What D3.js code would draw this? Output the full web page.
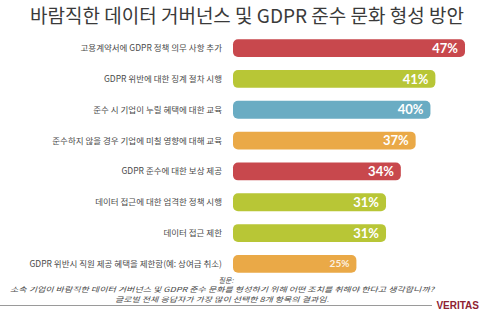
<!DOCTYPE html>
<html><head><meta charset="utf-8">
<script src="https://cdn.jsdelivr.net/npm/d3@7"></script>
<style>body{margin:0;background:#fff;}svg{display:block;}</style>
</head><body>
<svg id="c" width="495" height="323"></svg>
<script>
const title = "바람직한 데이터 거버넌스 및 GDPR 준수 문화 형성 방안";
const categories = [
  "고용계약서에 GDPR 정책 의무 사항 추가",
  "GDPR 위반에 대한 징계 절차 시행",
  "준수 시 기업이 누릴 혜택에 대한 교육",
  "준수하지 않을 경우 기업에 미칠 영향에 대해 교육",
  "GDPR 준수에 대한 보상 제공",
  "데이터 접근에 대한 엄격한 정책 시행",
  "데이터 접근 제한",
  "GDPR 위반시 직원 제공 혜택을 제한함(예: 상여금 취소)"
];
const values = [47, 41, 40, 37, 34, 31, 31, 25];
const barColors = ["#c8484d","#b8c636","#6aacc3","#eaa947","#c8484d","#b8c636","#b8c636","#eaa947"];
const footnote = [
  "질문:",
  "소속 기업이 바람직한 데이터 거버넌스 및 GDPR 준수 문화를 형성하기 위해 어떤 조치를 취해야 한다고 생각합니까?",
  "글로벌 전체 응답자가 가장 많이 선택한 8개 항목의 결과임."
];
const brand = "VERITAS";

const svg = d3.select("#c");
svg.append("text").attr("x", 247).attr("y", 23).attr("text-anchor","middle")
  .attr("font-family","'Noto Sans CJK KR', 'Noto Sans', sans-serif").attr("font-size",19)
  .attr("fill","#3a3a3a").text(title);

const x = d3.scaleLinear().domain([0, 47]).range([233, 465]);
const y = d3.scaleBand().domain(categories).range([33, 279]).paddingInner(0.42).paddingOuter(0.2);

const g = svg.append("g");
g.selectAll("rect").data(values).join("rect")
  .attr("x", x(0)).attr("y", (d,i)=>y(categories[i]))
  .attr("width", d=>x(d)-x(0)).attr("height", y.bandwidth())
  .attr("rx", 5).attr("fill", (d,i)=>barColors[i]);

g.selectAll("text.cat").data(categories).join("text").attr("class","cat")
  .attr("x", 222).attr("y", d=>y(d)+y.bandwidth()/2).attr("dy","0.35em")
  .attr("text-anchor","end").attr("font-family","'Noto Sans CJK KR', sans-serif")
  .attr("font-size",8.5).attr("fill","#4a4a4a").text(d=>d);

g.selectAll("text.val").data(values).join("text").attr("class","val")
  .attr("x", d=>x(d)-7).attr("y", (d,i)=>y(categories[i])+y.bandwidth()/2).attr("dy","0.36em")
  .attr("text-anchor","end").attr("font-family","Lato, sans-serif").attr("font-weight",700)
  .attr("font-size",(d,i)=>i===values.length-1?10:13).attr("fill","#fff")
  .attr("fill-opacity",(d,i)=>i===values.length-1?0.85:1).text(d=>d+"%");

const fy = [282.5, 292, 301.5];
svg.selectAll("text.fn").data(footnote).join("text").attr("class","fn")
  .attr("x", (d,i)=>i===0?226:222).attr("y",(d,i)=>fy[i]).attr("text-anchor","middle")
  .attr("font-family","'Noto Sans CJK KR', sans-serif").attr("font-style","italic")
  .attr("font-size",7).attr("fill","#444").text(d=>d)
  .each(function(d,i){ if(i===1) d3.select(this).attr("textLength",424).attr("lengthAdjust","spacingAndGlyphs"); if(i===2) d3.select(this).attr("textLength",214).attr("lengthAdjust","spacingAndGlyphs");});

svg.append("line").attr("x1",0).attr("x2",432).attr("y1",305.5).attr("y2",305.5)
  .attr("stroke","#9a9a9a").attr("stroke-width",1.2);
svg.append("text").attr("x",479).attr("y",309).attr("text-anchor","end")
  .attr("font-family","'Liberation Sans', sans-serif").attr("font-weight",700)
  .attr("font-size",10).attr("fill","#8e2232").text(brand);
</script>
</body></html>
